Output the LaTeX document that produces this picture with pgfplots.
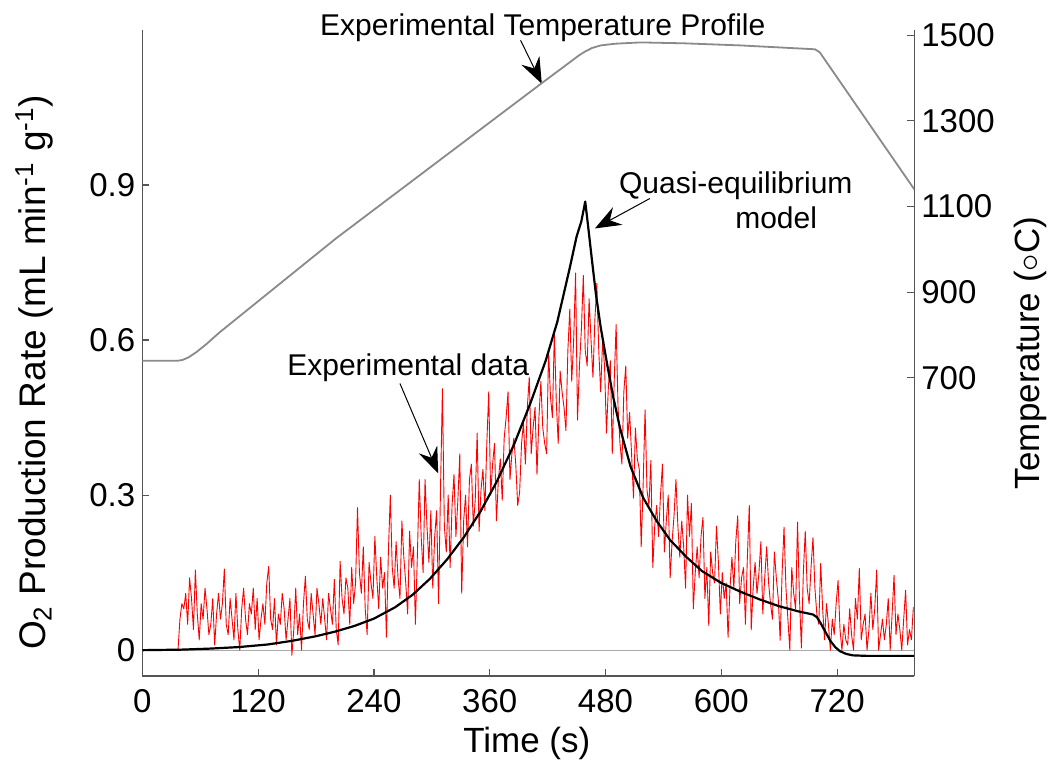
\documentclass[border=0pt]{standalone}
\usepackage{fontspec}
\setmainfont{Liberation Sans}
\usepackage{pgfplots}
\pgfplotsset{compat=1.18}
\usetikzlibrary{arrows.meta}
\definecolor{axisgray}{HTML}{555555}
\definecolor{tempgray}{HTML}{8A8A8A}
\definecolor{zerogray}{HTML}{AAAAAA}
\pgfplotsset{
 common/.style={
  width=386pt, height=323pt, scale only axis,
  xmin=0, xmax=800,
  tick align=inside,
  major tick length=3.5pt,
  axis line style={axisgray, line width=0.7pt},
  every tick/.style={axisgray, line width=0.6pt},
  tick label style={font=\fontsize{16.5}{19}\selectfont},
  /pgf/number format/assume math mode=true,
  /pgf/number format/1000 sep={},
  label style={font=\fontsize{17.5}{20}\selectfont},
 }
}
\begin{document}
\begin{tikzpicture}
\begin{axis}[common,
  axis x line*=bottom, axis y line*=left,
  ymin=-0.05, ymax=1.2,
  xtick={0,120,...,720}, ytick={0,0.3,0.6,0.9},
  xticklabel style={yshift=-3pt},
  xlabel={Time (s)},
  ylabel={O\textsubscript{2} Production Rate (mL min\textsuperscript{-1} g\textsuperscript{-1})},
  xlabel style={at={(axis description cs:0.498,-0.1037)},anchor=center},
  ylabel style={font=\fontsize{18.5}{21}\selectfont, at={(axis description cs:-0.140,0.47)},anchor=center},
  clip=false]
\addplot[zerogray, line width=0.6pt] coordinates {(0,0) (800,0)};
\addplot[red, line width=0.45pt, line join=round] table[x=t,y=v] {
t v
37 0.00
39 0.06
41 0.09
43 0.08
45 0.11
47 0.05
49 0.14
51 0.10
53 0.04
55 0.155
57 0.07
59 0.02
61 0.09
63 0.06
65 0.12
67 0.08
69 0.03
71 0.05
73 0.10
75 0.01
77 0.07
79 0.11
81 0.06
83 0.09
85 0.157
87 0.05
89 0.03
91 0.10
93 0.06
95 0.02
97 0.11
99 0.04
101 0.00
103 0.08
105 0.12
107 0.06
109 0.03
111 0.09
113 0.07
115 0.12
117 0.04
119 0.10
121 0.02
123 0.06
125 0.09
127 0.05
129 0.13
131 0.162
133 0.06
135 0.04
137 0.10
139 0.01
141 0.07
143 0.05
145 0.11
147 0.08
149 0.02
151 0.06
153 0.10
155 -0.01
157 0.04
159 0.12
161 0.03
163 0.07
165 0.00
167 0.09
169 0.143
171 0.06
173 0.04
175 0.11
177 0.07
179 0.03
181 0.12
183 0.09
185 0.05
187 0.10
189 0.06
191 0.02
193 0.11
195 0.08
197 0.05
199 0.137
201 0.04
203 0.01
205 0.172
207 0.10
209 0.07
211 0.14
213 0.12
215 0.05
217 0.16
219 0.09
221 0.13
223 0.276
225 0.15
227 0.11
229 0.20
231 0.08
233 0.03
235 0.17
237 0.13
239 0.10
241 0.22
243 0.14
245 0.08
247 0.18
249 0.12
251 0.15
253 0.025
255 0.19
257 0.30
259 0.16
261 0.12
263 0.21
265 0.14
267 0.10
269 0.25
271 0.18
273 0.13
275 0.07
277 0.23
279 0.16
281 0.20
283 0.05
285 0.18
287 0.33
289 0.22
291 0.15
293 0.33
295 0.24
297 0.17
299 0.27
301 0.12
303 0.22
305 0.27
307 0.09
309 0.31
311 0.506
313 0.24
315 0.19
317 0.30
319 0.16
321 0.28
323 0.34
325 0.22
327 0.29
329 0.38
331 0.11
333 0.25
335 0.30
337 0.20
339 0.33
341 0.36
343 0.24
345 0.29
347 0.42
349 0.23
351 0.31
353 0.35
355 0.27
357 0.40
359 0.50
361 0.30
363 0.36
365 0.40
367 0.25
369 0.33
371 0.37
373 0.29
375 0.41
377 0.45
379 0.50
381 0.33
383 0.38
385 0.41
387 0.36
389 0.28
391 0.305
393 0.40
395 0.44
397 0.36
399 0.47
401 0.528
403 0.38
405 0.43
407 0.47
409 0.34
411 0.45
413 0.52
415 0.43
417 0.40
419 0.38
421 0.58
423 0.49
425 0.45
427 0.615
429 0.48
431 0.40
433 0.54
435 0.50
437 0.47
439 0.425
441 0.58
443 0.66
445 0.52
447 0.60
449 0.73
451 0.445
453 0.55
455 0.62
457 0.725
459 0.58
461 0.55
463 0.68
465 0.60
467 0.528
469 0.64
471 0.71
473 0.58
475 0.50
477 0.60
479 0.55
481 0.42
483 0.51
485 0.56
487 0.38
489 0.52
491 0.63
493 0.47
495 0.40
497 0.36
499 0.50
501 0.55
503 0.41
505 0.46
507 0.38
509 0.294
511 0.43
513 0.37
515 0.35
517 0.20
519 0.32
521 0.465
523 0.31
525 0.28
527 0.367
529 0.16
531 0.24
533 0.28
535 0.22
537 0.30
539 0.36
541 0.19
543 0.25
545 0.30
547 0.14
549 0.21
551 0.26
553 0.33
555 0.24
557 0.18
559 0.25
561 0.20
563 0.12
565 0.30
567 0.22
569 0.284
571 0.08
573 0.15
575 0.20
577 0.14
579 0.22
581 0.257
583 0.10
585 0.16
587 0.048
589 0.19
591 0.15
593 0.13
595 0.24
597 0.17
599 0.07
601 0.15
603 0.10
605 0.13
607 0.025
609 0.12
611 0.18
613 0.12
615 0.21
617 0.26
619 0.09
621 0.14
623 0.16
625 0.05
627 0.18
629 0.28
631 0.039
633 0.12
635 0.17
637 0.11
639 0.15
641 0.21
643 0.07
645 0.14
647 0.20
649 0.13
651 0.09
653 0.06
655 0.19
657 0.14
659 0.10
661 0.019
663 0.15
665 0.238
667 0.12
669 0.06
671 0.00
673 0.16
675 0.11
677 0.08
679 0.248
681 0.10
683 0.004
685 0.15
687 0.23
689 0.12
691 0.09
693 0.16
695 0.218
697 0.12
699 0.07
701 0.05
703 0.168
705 0.08
707 0.02
709 0.09
711 0.05
713 0.00
715 0.06
717 0.03
719 0.09
721 0.135
723 0.04
725 0.00
727 0.05
729 0.02
731 0.01
733 0.08
735 0.03
737 0.00
739 0.10
741 0.06
743 0.158
745 0.02
747 0.05
749 0.07
751 0.00
753 0.04
755 0.11
757 0.04
759 0.08
761 0.155
763 0.00
765 0.03
767 0.06
769 0.02
771 0.05
773 0.10
775 0.00
777 0.07
779 0.145
781 0.03
783 0.07
785 0.04
787 0.00
789 0.06
791 0.116
793 0.01
795 0.04
797 0.02
799 0.083
};
\addplot[black, line width=1.1pt, line join=round] coordinates {
(0,0) (40,0.001) (70,0.003) (100,0.006) (130,0.011) (155,0.018) (180,0.027)
(200,0.036) (220,0.047) (240,0.061) (262,0.083) (280,0.107) (298,0.138)
(316,0.176) (333,0.218) (350,0.267) (367,0.325) (385,0.397) (402,0.477)
(418,0.56) (430,0.635) (443,0.74) (450,0.80) (455,0.83) (459,0.868)
(462,0.82) (466,0.754) (470,0.69) (475,0.625) (482,0.55) (488,0.49)
(495,0.43) (506,0.355) (519,0.295) (533,0.25) (547,0.213) (564,0.18)
(580,0.153) (600,0.13) (620,0.113) (640,0.098) (660,0.085) (680,0.075)
(695,0.069) (699,0.064) (703,0.052) (708,0.035) (713,0.018) (718,0.006)
(723,-0.002) (729,-0.007) (736,-0.01) (750,-0.011) (800,-0.011)
};
\coordinate (ll) at (rel axis cs:0,0);
\coordinate (ur) at (rel axis cs:1,1);
\draw[black, line width=0.5pt, -{Stealth[length=13pt,width=10pt,inset=4.5pt]}] (axis cs:392,1.18) -- (axis cs:414,1.096);
\node[font=\fontsize{15}{18}\selectfont] at (axis cs:415,1.204) {Experimental Temperature Profile};
\draw[black, line width=0.5pt, -{Stealth[length=13pt,width=10pt,inset=4.5pt]}] (axis cs:267,0.516) -- (axis cs:306.6,0.342);
\node[font=\fontsize{15}{18}\selectfont] at (axis cs:275.6,0.547) {Experimental data};
\draw[black, line width=0.5pt, -{Stealth[length=13pt,width=10pt,inset=4.5pt]}] (axis cs:526,0.874) -- (axis cs:469,0.816);
\node[font=\fontsize{15}{18}\selectfont] at (axis cs:615,0.899) {Quasi-equilibrium};
\node[font=\fontsize{15}{18}\selectfont] at (axis cs:656.8,0.837) {model};
\end{axis}
\begin{axis}[common,
  axis x line=none, axis y line*=right,
  ymin=4, ymax=1512,
  ytick={700,900,1100,1300,1500},
  ylabel={Temperature ($\circ$C)},
  ylabel style={at={(axis description cs:1.150,0.5)},anchor=center}]
\addplot[tempgray, line width=0.9pt, line join=round] coordinates {
(0,740) (37,740) (42,742) (48,748) (56,760) (66,778) (80,806) (201,1026)
(414,1388) (445,1440) (452,1452) (459,1462) (466,1470) (475,1476) (490,1480)
(516,1483) (560,1481) (620,1476) (697,1467) (702,1460) (800,1140)
};
\end{axis}
\pgfresetboundingbox
\path ([shift={(-71.15pt,-42.5pt)}]ll) rectangle ([shift={(68.85pt,15pt)}]ur);
\end{tikzpicture}
\end{document}
